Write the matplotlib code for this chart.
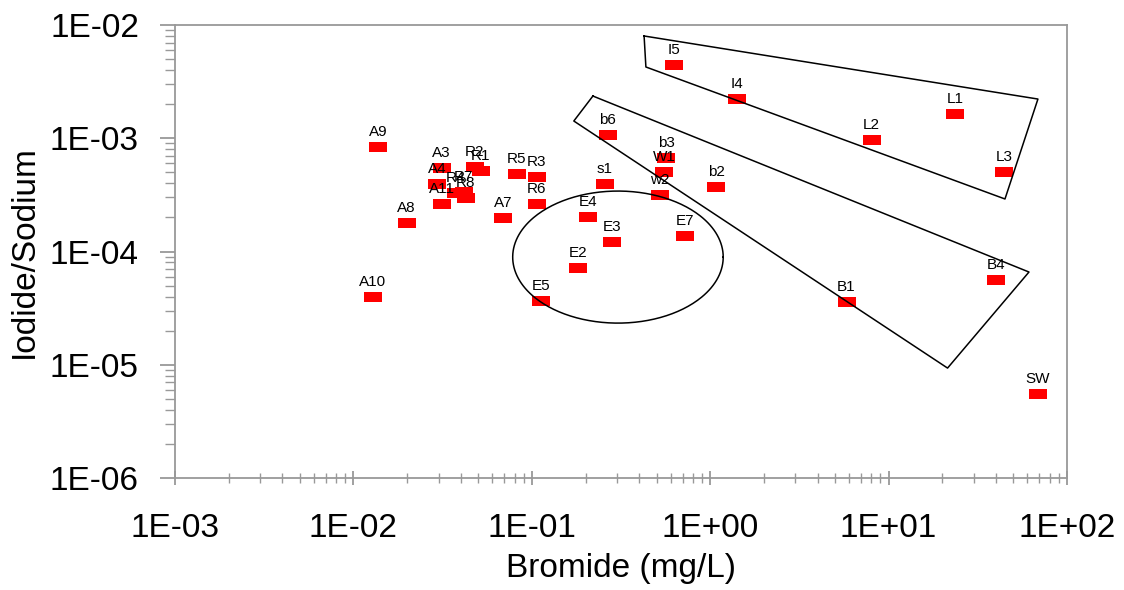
import numpy as np
import matplotlib
matplotlib.use("Agg")
import matplotlib.pyplot as plt
from matplotlib.path import Path
from matplotlib.ticker import LogLocator, FuncFormatter, NullFormatter

plt.rcParams["font.family"] = ["Liberation Sans", "DejaVu Sans"]

# sample labels, bromide (mg/L), iodide/sodium ratio
labels = ["A9", "A3", "A4", "A11", "R2", "R1", "R4", "R7", "R8", "R5", "R3", "R6",
          "A7", "A8", "A10", "s1", "E4", "E3", "E7", "E2", "E5", "w2", "W1", "b3",
          "b2", "b6", "I5", "I4", "L2", "L1", "L3", "B1", "B4", "SW"]
bromide = [0.0138, 0.0312, 0.0296, 0.0312, 0.0479, 0.0517, 0.0374, 0.0415, 0.0426,
           0.0824, 0.1066, 0.1066, 0.0687, 0.0199, 0.0128, 0.257, 0.206, 0.281,
           0.724, 0.181, 0.1125, 0.524, 0.552, 0.566, 1.08, 0.267, 0.628, 1.42,
           8.02, 23.5, 44.3, 5.81, 39.9, 68.7]
iodide_sodium = [8.37e-4, 5.46e-4, 3.94e-4, 2.62e-4, 5.57e-4, 5.14e-4, 3.29e-4,
                 3.35e-4, 2.96e-4, 4.83e-4, 4.55e-4, 2.62e-4, 1.98e-4, 1.79e-4,
                 3.96e-5, 3.94e-4, 2.02e-4, 1.21e-4, 1.37e-4, 7.14e-5, 3.66e-5,
                 3.16e-4, 5.04e-4, 6.70e-4, 3.72e-4, 1.07e-3, 4.43e-3, 2.22e-3,
                 9.66e-4, 1.64e-3, 5.04e-4, 3.58e-5, 5.60e-5, 5.52e-6]

# hand-drawn grouping outlines (data coords)
group_L_x = [0.426, 68.7, 44.9, 0.436, 0.426]
group_L_y = [8.0e-3, 2.22e-3, 2.91e-4, 4.26e-3, 8.0e-3]
group_B_x = [0.220, 61.2, 21.4, 0.172, 0.220]
group_B_y = [2.36e-3, 6.59e-5, 9.35e-6, 1.42e-3, 2.36e-3]
# ellipse round the E samples: centre and half-axes in decades
ell_center = (0.304, 8.93e-5)
ell_half_decades = (0.590, 0.583)

fig = plt.figure(figsize=(11.24, 5.9), dpi=100)
ax = fig.add_axes([0.1557, 0.1898, 0.7936, 0.7678])
ax.set_xscale("log")
ax.set_yscale("log")
ax.set_xlim(1e-3, 1e2)
ax.set_ylim(1e-6, 1e-2)

# wide red rectangle marker
rect = Path([(-1, -0.55), (1, -0.55), (1, 0.55), (-1, 0.55), (-1, -0.55)],
            [Path.MOVETO, Path.LINETO, Path.LINETO, Path.LINETO, Path.CLOSEPOLY])
ax.plot(bromide, iodide_sodium, ls="none", marker=rect, ms=13,
        mfc="#ff0000", mec="#ff0000", mew=0, zorder=2, clip_on=False)
for lab, x, y in zip(labels, bromide, iodide_sodium):
    ax.annotate(lab, (x, y), xytext=(0, 8), textcoords="offset points",
                ha="center", va="baseline", fontsize=11, zorder=4)

ax.plot(group_L_x, group_L_y, color="black", lw=1.1, zorder=3)
ax.plot(group_B_x, group_B_y, color="black", lw=1.1, zorder=3)
t = np.linspace(0, 2 * np.pi, 300)
ex = 10 ** (np.log10(ell_center[0]) + ell_half_decades[0] * np.cos(t))
ey = 10 ** (np.log10(ell_center[1]) + ell_half_decades[1] * np.sin(t))
ax.plot(ex, ey, color="black", lw=1.1, zorder=3)

grey = "#999999"
for s in ax.spines.values():
    s.set_color(grey)
    s.set_linewidth(1.3)

fmt = FuncFormatter(lambda v, p: f"1E{int(round(np.log10(v))):+03d}")
for axis in (ax.xaxis, ax.yaxis):
    axis.set_major_locator(LogLocator(base=10, numticks=10))
    axis.set_minor_locator(LogLocator(base=10, subs=np.arange(2, 10), numticks=10))
    axis.set_major_formatter(fmt)
    axis.set_minor_formatter(NullFormatter())

ax.tick_params(axis="x", which="major", direction="inout", length=10, width=1.3,
               color=grey, labelsize=24, pad=20)
ax.tick_params(axis="x", which="minor", direction="inout", length=7, width=1,
               color=grey)
ax.tick_params(axis="y", which="major", direction="out", length=11, width=1.3,
               color=grey, labelsize=24, pad=15)
ax.tick_params(axis="y", which="minor", direction="out", length=7, width=1,
               color=grey)

ax.set_xlabel("Bromide (mg/L)", fontsize=24, labelpad=7)
ax.set_ylabel("Iodide/Sodium", fontsize=24, labelpad=7)

fig.savefig("out.png", dpi=100)
